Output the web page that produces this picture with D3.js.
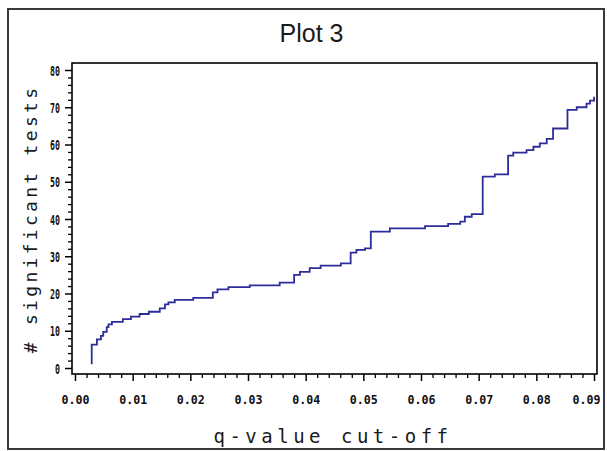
<!DOCTYPE html>
<html>
<head>
<meta charset="utf-8">
<script src="https://cdn.jsdelivr.net/npm/d3@7"></script>
<style>
  html, body { margin: 0; padding: 0; background: #fff; }
  svg { display: block; }
</style>
</head>
<body>
<svg id="chart" width="607" height="451"></svg>
<script>
// ---- data ----
const qCutoff = [0.0029, 0.0029, 0.0038, 0.0045, 0.0049, 0.0055, 0.0058, 0.0064, 0.0083, 0.0097,
  0.0112, 0.0128, 0.0147, 0.0156, 0.0162, 0.0173, 0.0205, 0.0239, 0.0247, 0.0266,
  0.0303, 0.0355, 0.0380, 0.0390, 0.0407, 0.0426, 0.0461, 0.0478, 0.0488, 0.0503,
  0.0513, 0.0546, 0.0607, 0.0647, 0.0668, 0.0676, 0.0688, 0.0707, 0.0728, 0.0751,
  0.0760, 0.0783, 0.0795, 0.0806, 0.0818, 0.0829, 0.0854, 0.0870, 0.0887, 0.0893, 0.0900];
const nSignificant = [1, 6.3, 7.7, 8.6, 9.7, 11, 11.7, 12.4, 13.1, 13.8,
  14.5, 15.1, 16, 17.1, 17.6, 18.3, 18.8, 20.3, 21.1, 21.7,
  22.2, 22.9, 25, 25.8, 26.8, 27.5, 28.1, 31, 31.7, 32.1,
  36.6, 37.5, 38.1, 38.7, 39.3, 40.6, 41.3, 51.4, 52, 57,
  57.8, 58.5, 59.4, 60.3, 61.5, 64.3, 69.3, 70, 71, 71.8, 72.8];
const xTickValues = [0, 0.01, 0.02, 0.03, 0.04, 0.05, 0.06, 0.07, 0.08, 0.09];
const xTickLabels = ["0.00", "0.01", "0.02", "0.03", "0.04", "0.05", "0.06", "0.07", "0.08", "0.09"];
const yTickValues = [0, 10, 20, 30, 40, 50, 60, 70, 80];
const yTickLabels = ["0", "10", "20", "30", "40", "50", "60", "70", "80"];
const titleText = "Plot 3";
const xTitle = "q-value cut-off";
const yTitle = "# significant tests";

// ---- layout ----
const svg = d3.select("#chart");
const plot = { left: 72, right: 597, top: 63, bottom: 374 };
const x = d3.scaleLinear().domain([0, 0.09]).range([75, 594]);
const y = d3.scaleLinear().domain([0, 80]).range([368, 70]);

// outer frame
svg.append("rect")
  .attr("x", 8).attr("y", 9).attr("width", 596).attr("height", 440)
  .attr("fill", "none").attr("stroke", "#3a3a3a").attr("stroke-width", 2);

// title
svg.append("text")
  .attr("x", 311.5).attr("y", 41.5)
  .attr("text-anchor", "middle")
  .attr("font-family", "'Liberation Sans', Arial, sans-serif")
  .attr("font-size", 25)
  .attr("fill", "#1a1a1a")
  .text(titleText);

// minor ticks
const xMinor = d3.range(0, 0.0901, 0.002).filter(v => Math.abs(v / 0.01 - Math.round(v / 0.01)) > 1e-6);
const yMinor = d3.range(0, 80.1, 2).filter(v => v % 10 !== 0);

svg.append("g")
  .attr("transform", `translate(0,${plot.bottom})`)
  .call(d3.axisBottom(x).tickValues(xMinor).tickSize(4).tickFormat(""))
  .call(g => g.select(".domain").remove())
  .selectAll("line").attr("stroke", "#000").attr("stroke-width", 1.3);

svg.append("g")
  .attr("transform", `translate(${plot.left},0)`)
  .call(d3.axisLeft(y).tickValues(yMinor).tickSize(4).tickFormat(""))
  .call(g => g.select(".domain").remove())
  .selectAll("line").attr("stroke", "#000").attr("stroke-width", 1.3);

// major x axis
const xAxis = svg.append("g")
  .attr("transform", `translate(0,${plot.bottom})`)
  .call(d3.axisBottom(x).tickValues(xTickValues).tickSize(7)
    .tickFormat((d, i) => xTickLabels[i]));
xAxis.select(".domain").remove();
xAxis.selectAll("line").attr("stroke", "#000").attr("stroke-width", 1.5);
xAxis.selectAll("text")
  .attr("y", 30).attr("dy", 0)
  .attr("font-family", "'DejaVu Sans Mono', monospace")
  .attr("font-weight", "bold")
  .attr("font-size", 13)
  .attr("fill", "#111")
  .attr("textLength", 28)
  .attr("lengthAdjust", "spacingAndGlyphs")
  .attr("dx", (d, i) => i === xTickValues.length - 1 ? -8 : 0);

// major y axis
const yAxis = svg.append("g")
  .attr("transform", `translate(${plot.left},0)`)
  .call(d3.axisLeft(y).tickValues(yTickValues).tickSize(7)
    .tickFormat((d, i) => yTickLabels[i]));
yAxis.select(".domain").remove();
yAxis.selectAll("line").attr("stroke", "#000").attr("stroke-width", 1.5);
yAxis.selectAll("text")
  .attr("x", -12).attr("dy", "0.36em")
  .attr("font-family", "'DejaVu Sans Mono', monospace")
  .attr("font-weight", "bold")
  .attr("font-size", 14)
  .attr("fill", "#111")
  .each(function (d, i) {
    const n = yTickLabels[i].length;
    d3.select(this).attr("textLength", n * 5).attr("lengthAdjust", "spacingAndGlyphs");
  });

// plot frame
svg.append("rect")
  .attr("x", plot.left).attr("y", plot.top)
  .attr("width", plot.right - plot.left).attr("height", plot.bottom - plot.top)
  .attr("fill", "none").attr("stroke", "#000").attr("stroke-width", 1.6);

// the step line
const pts = qCutoff.map((q, i) => [q, nSignificant[i]]);
const line = d3.line()
  .x(d => x(d[0]))
  .y(d => y(d[1]))
  .curve(d3.curveStepAfter);
svg.append("path")
  .datum(pts)
  .attr("d", line)
  .attr("fill", "none")
  .attr("stroke", "#2c2c9a")
  .attr("stroke-width", 1.8);

// axis titles
svg.append("text")
  .attr("x", 333).attr("y", 443)
  .attr("text-anchor", "middle")
  .attr("font-family", "'DejaVu Sans Mono', monospace")
  .attr("font-size", 19)
  .attr("letter-spacing", 4.5)
  .attr("fill", "#1a1a1a")
  .text(xTitle);

svg.append("text")
  .attr("transform", "translate(37,219) rotate(-90)")
  .attr("text-anchor", "middle")
  .attr("font-family", "'DejaVu Sans Mono', monospace")
  .attr("font-size", 18)
  .attr("letter-spacing", 3.3)
  .attr("fill", "#1a1a1a")
  .text(yTitle);
</script>
</body>
</html>
